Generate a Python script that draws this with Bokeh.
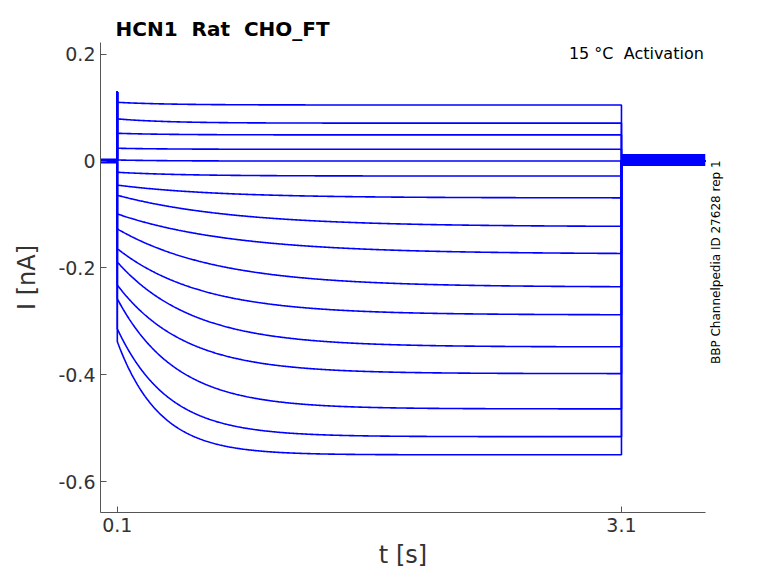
import numpy as np
from bokeh.plotting import figure
from bokeh.models import FixedTicker, Range1d, LinearAxis, Label
from bokeh.embed import file_html
from bokeh.resources import INLINE

# per-trace values (nA)
start_level = [0.110, 0.079, 0.052, 0.024, 0.002, -0.021, -0.045, -0.064, -0.099, -0.127,
               -0.164, -0.189, -0.232, -0.258, -0.314, -0.338]
steady_level = [0.105, 0.071, 0.049, 0.022, 0.000, -0.028, -0.069, -0.123, -0.174, -0.236,
                -0.288, -0.348, -0.398, -0.464, -0.516, -0.550]
tau = [0.3, 0.3, 0.3, 0.3, 0.3, 0.4, 0.6, 0.7, 0.7, 0.6, 0.5, 0.45, 0.4, 0.35, 0.3, 0.25]
t_on, t_off, t_end = 0.1, 3.1, 3.6
x_ticks = [0.1, 3.1]
y_ticks = [-0.6, -0.4, -0.2, 0, 0.2]
NB = "\u00a0"
side_text = "BBP Channelpedia ID 27628 rep 1"
side_pos = -0.380

p = figure(width=770, height=575, output_backend="svg", toolbar_location=None,
           x_range=Range1d(0, t_end), y_range=Range1d(-0.658, 0.222),
           min_border_left=100, min_border_right=65, min_border_top=42, min_border_bottom=63,
           title=f"HCN1{NB} Rat{NB} CHO_FT")
p.title.text_font = "DejaVu Sans"
p.title.text_font_size = "20px"
p.title.text_font_style = "bold"
p.title.text_color = "black"
p.title.offset = 15
p.title.standoff = 4
p.background_fill_color = "white"
p.border_fill_color = "white"
p.grid.visible = False
p.outline_line_color = None

for s, e, tc in zip(start_level, steady_level, tau):
    t = np.linspace(t_on, t_off, 600)
    y = e + (s - e) * np.exp(-(t - t_on) / tc)
    xs = np.concatenate([[0, t_on, t_on], t, [t_off, t_off, t_end]])
    ys = np.concatenate([[0, 0, 0.13], y, [y[-1], 0, 0]])
    p.line(xs, ys, line_color="#0000ff", line_width=1.6)
# noisy holding-current band before and after the pulse
p.line([t_off, t_end], [0.002, 0.002], line_color="#0000ff", line_width=12)
p.line([0, t_on], [0, 0], line_color="#0000ff", line_width=5)

p.xaxis.ticker = FixedTicker(ticks=x_ticks)
p.yaxis.ticker = FixedTicker(ticks=y_ticks)
p.yaxis.major_label_overrides = {-0.6: "-0.6", -0.4: "-0.4", -0.2: "-0.2", 0: "0", 0.2: "0.2"}

rax = LinearAxis(ticker=FixedTicker(ticks=[side_pos]),
                 major_label_overrides={side_pos: side_text},
                 axis_line_color=None, major_tick_line_color=None, minor_tick_line_color=None,
                 major_label_standoff=5,
                 major_label_text_font="DejaVu Sans", major_label_text_font_size="12px",
                 major_label_text_color="black", major_label_orientation=np.pi / 2)
p.add_layout(rax, "right")

for ax in (p.xaxis[0], p.yaxis[0]):
    ax.axis_line_color = "#555555"
    ax.major_tick_line_color = "#555555"
    ax.major_tick_in = 6
    ax.major_tick_out = 0
    ax.minor_tick_line_color = None
    ax.major_label_text_font = "DejaVu Sans"
    ax.major_label_text_font_size = "19px"
    ax.major_label_text_color = "#333333"
    ax.axis_label_text_font = "DejaVu Sans"
    ax.axis_label_text_font_size = "24px"
    ax.axis_label_text_font_style = "normal"
    ax.axis_label_text_color = "#333333"
p.xaxis[0].axis_label = "t [s]"
p.yaxis[0].axis_label = "I [nA]"
p.xaxis[0].axis_label_standoff = 6
p.yaxis[0].axis_label_standoff = 14

p.add_layout(Label(x=3.59, y=0.219, text=f"15 °C{NB} Activation", text_baseline="top",
                   text_font="DejaVu Sans", text_font_size="16px", text_align="right",
                   text_color="black"))

open("out.html", "w").write(file_html(p, INLINE))
